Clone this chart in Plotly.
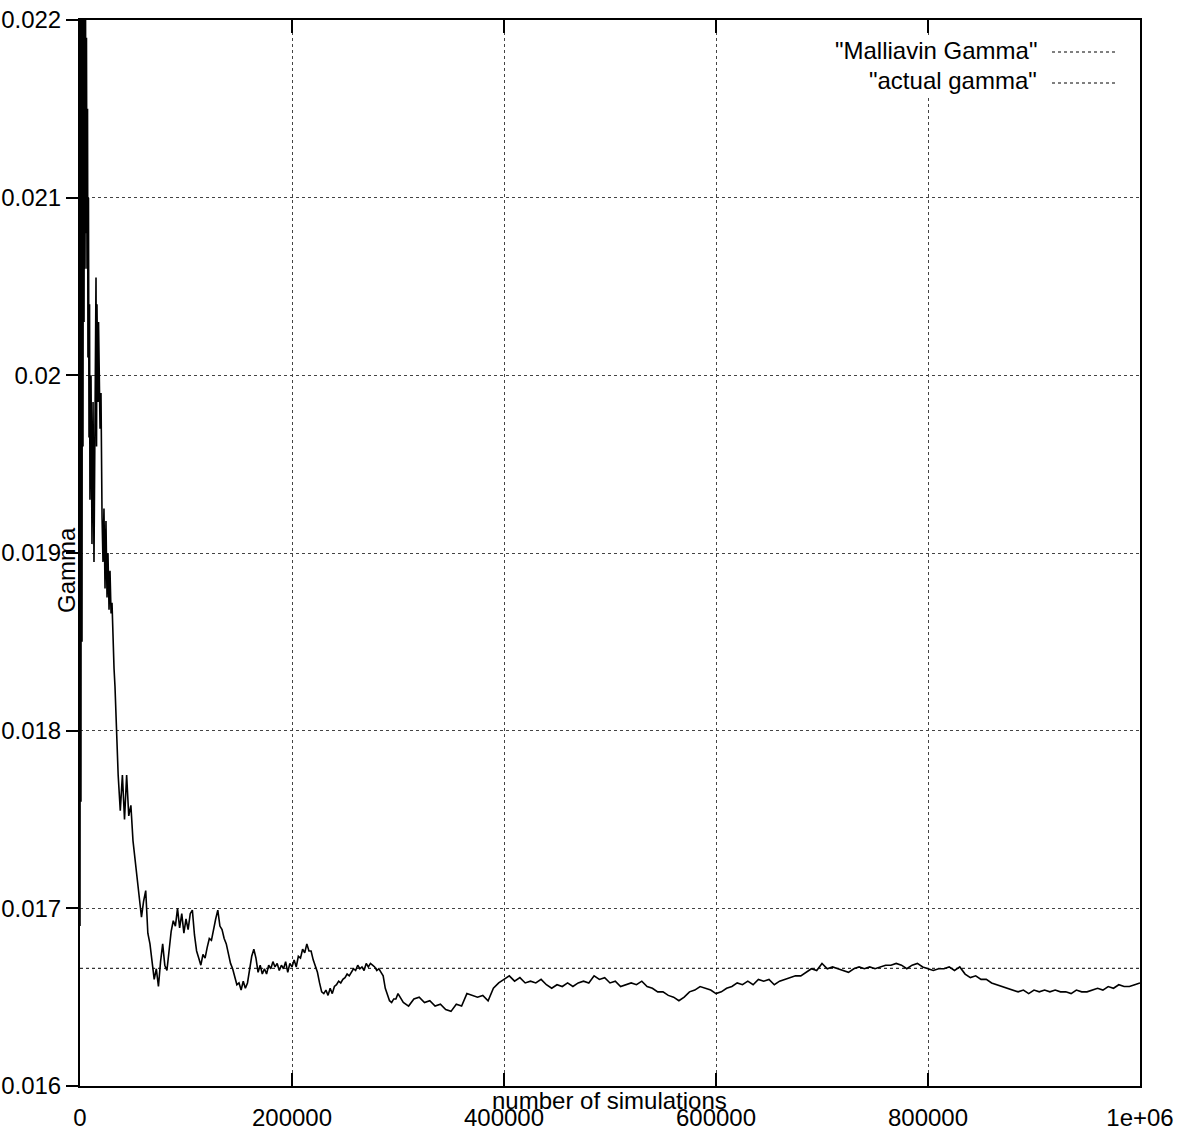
import plotly.graph_objects as go

# Running estimate of the Malliavin Gamma against the number of simulations.
# First ~35k simulations: very noisy start, sampled irregularly.
early_n = [0, 500, 900, 1400, 1900, 2400, 2800, 3300, 3800, 4200,
           4700, 5200, 5700, 6100, 6600, 7100, 7500, 8000, 8500, 9000,
           9400, 10400, 11300, 12300, 13200, 14200, 15100, 15600, 16000, 17000,
           17500, 18900, 19800, 20800, 21700, 22600, 23600, 24500, 25500, 26400,
           27400, 28300, 29300, 30200, 31100, 32100, 33000, 34000, 34900]
early_gamma = [0.01690, 0.02280, 0.01760, 0.02310, 0.01850, 0.02260, 0.01960, 0.02240, 0.02030, 0.02230,
               0.02060, 0.02210, 0.02080, 0.02190, 0.02060, 0.02150, 0.02010, 0.02100, 0.01965, 0.02040,
               0.01930, 0.02000, 0.01905, 0.01985, 0.01895, 0.01960, 0.02055, 0.01960, 0.02040, 0.01985,
               0.02030, 0.01970, 0.01990, 0.01920, 0.01895, 0.01925, 0.01880, 0.01918, 0.01875, 0.01900,
               0.01868, 0.01890, 0.01866, 0.01872, 0.01850, 0.01835, 0.01825, 0.01808, 0.01795]

# 36000 .. 298000 simulations, every 2000
mid_n = list(range(36000, 300000, 2000))
mid_gamma = [0.01775, 0.01755, 0.01775, 0.01750, 0.01775, 0.01752, 0.01758, 0.01738, 0.01728, 0.01716,
             0.01706, 0.01695, 0.01704, 0.01710, 0.01686, 0.01680, 0.01670, 0.01660, 0.01666, 0.01656,
             0.01670, 0.01680, 0.01668, 0.01665, 0.01676, 0.01687, 0.01693, 0.01690, 0.01700, 0.01689,
             0.01697, 0.01686, 0.01694, 0.01688, 0.01697, 0.01699, 0.01685, 0.01676, 0.01672, 0.01668,
             0.01674, 0.01672, 0.01678, 0.01683, 0.01682, 0.01689, 0.01694, 0.01699, 0.01690, 0.01688,
             0.01683, 0.01680, 0.01675, 0.01669, 0.01666, 0.01661, 0.01657, 0.01658, 0.01654, 0.01659,
             0.01655, 0.01658, 0.01665, 0.01673, 0.01677, 0.01672, 0.01664, 0.01668, 0.01663, 0.01666,
             0.01663, 0.01668, 0.01666, 0.01670, 0.01667, 0.01669, 0.01665, 0.01668, 0.01666, 0.01670,
             0.01664, 0.01669, 0.01667, 0.01671, 0.01667, 0.01673, 0.01672, 0.01677, 0.01675, 0.01680,
             0.01676, 0.01676, 0.01671, 0.01668, 0.01664, 0.01658, 0.01653, 0.01652, 0.01654, 0.01651,
             0.01655, 0.01652, 0.01656, 0.01657, 0.01659, 0.01658, 0.01660, 0.01661, 0.01663, 0.01662,
             0.01664, 0.01666, 0.01665, 0.01668, 0.01666, 0.01667, 0.01665, 0.01669, 0.01667, 0.01669,
             0.01668, 0.01667, 0.01665, 0.01666, 0.01664, 0.01662, 0.01655, 0.01651, 0.01648, 0.01647,
             0.01649, 0.01649]

# 300000 .. 1000000 simulations, every 5000
late_n = list(range(300000, 1000001, 5000))
late_gamma = [0.01652, 0.01647, 0.01645, 0.01649, 0.01650, 0.01647, 0.01648, 0.01645, 0.01646, 0.01643,
              0.01642, 0.01646, 0.01645, 0.01652, 0.01651, 0.01650, 0.01651, 0.01648, 0.01655, 0.01658,
              0.01660, 0.01662, 0.01659, 0.01661, 0.01658, 0.01659, 0.01658, 0.01660, 0.01657, 0.01655,
              0.01657, 0.01656, 0.01658, 0.01656, 0.01658, 0.01659, 0.01658, 0.01662, 0.01660, 0.01661,
              0.01658, 0.01659, 0.01656, 0.01657, 0.01658, 0.01657, 0.01659, 0.01656, 0.01655, 0.01653,
              0.01653, 0.01651, 0.01650, 0.01648, 0.01650, 0.01653, 0.01654, 0.01656, 0.01655, 0.01654,
              0.01652, 0.01653, 0.01655, 0.01656, 0.01658, 0.01657, 0.01659, 0.01657, 0.01660, 0.01659,
              0.01660, 0.01657, 0.01659, 0.01660, 0.01661, 0.01662, 0.01662, 0.01664, 0.01666, 0.01665,
              0.01669, 0.01666, 0.01667, 0.01666, 0.01665, 0.01664, 0.01666, 0.01667, 0.01666, 0.01667,
              0.01666, 0.01667, 0.01668, 0.01668, 0.01669, 0.01668, 0.01666, 0.01668, 0.01669, 0.01667,
              0.01666, 0.01665, 0.01666, 0.01666, 0.01667, 0.01665, 0.01667, 0.01663, 0.01661, 0.01662,
              0.01660, 0.01660, 0.01658, 0.01657, 0.01656, 0.01655, 0.01654, 0.01653, 0.01654, 0.01652,
              0.01654, 0.01653, 0.01654, 0.01653, 0.01654, 0.01653, 0.01653, 0.01652, 0.01654, 0.01653,
              0.01653, 0.01654, 0.01655, 0.01654, 0.01656, 0.01655, 0.01657, 0.01656, 0.01656, 0.01657,
              0.01658]

# Closed-form gamma used as the reference level
actual_gamma = 0.0166625

x_ticks = [0, 200000, 400000, 600000, 800000, 1000000]
x_tick_labels = ["0", "200000", "400000", "600000", "800000", "1e+06"]
y_ticks = [0.016, 0.017, 0.018, 0.019, 0.020, 0.021, 0.022]
y_tick_labels = ["0.016", "0.017", "0.018", "0.019", "0.02", "0.021", "0.022"]

for a, b in ((early_n, early_gamma), (mid_n, mid_gamma), (late_n, late_gamma)):
    assert len(a) == len(b), (len(a), len(b))

sims = early_n + mid_n + late_n
malliavin = early_gamma + mid_gamma + late_gamma

FONT = "Liberation Sans, Arial, Helvetica, sans-serif"
W, H = 1189, 1137
L, R, T, B = 80, 49, 20, 51
PW, PH = W - L - R, H - T - B


def px(x):
    return (x - L) / PW


def py(y):
    return (H - B - y) / PH


fig = go.Figure()
fig.add_trace(go.Scatter(
    x=sims, y=malliavin, mode="lines", name='"Malliavin Gamma"',
    line=dict(color="black", width=1.6),
))
fig.add_trace(go.Scatter(
    x=[0, 1000000], y=[actual_gamma, actual_gamma], mode="lines",
    name='"actual gamma"', line=dict(color="black", width=1, dash="dot"),
))

axis_common = dict(
    showline=True, linecolor="black", linewidth=2,
    showgrid=True, gridcolor="#444444", gridwidth=1, griddash="dot",
    zeroline=False, automargin=False,
    tickcolor="black", tickwidth=1.5,
    tickfont=dict(family=FONT, size=24, color="black"),
)

fig.update_xaxes(range=[0, 1000000], tickvals=x_ticks, ticktext=x_tick_labels,
                 ticks="inside", ticklen=13, mirror="ticks", ticklabelstandoff=9,
                 **axis_common)
fig.update_yaxes(range=[0.016, 0.022], tickvals=y_ticks, ticktext=y_tick_labels,
                 ticks="outside", ticklen=12, mirror=True, **axis_common)

shapes = [
    # blank key area
    dict(type="rect", xref="paper", yref="paper", x0=px(845), x1=px(1125),
         y0=py(98), y1=py(35), fillcolor="white", line=dict(width=0), layer="above"),
    dict(type="line", xref="paper", yref="paper", x0=px(1052), x1=px(1115),
         y0=py(52), y1=py(52), line=dict(color="black", width=1, dash="dot"), layer="above"),
    dict(type="line", xref="paper", yref="paper", x0=px(1052), x1=px(1115),
         y0=py(83), y1=py(83), line=dict(color="black", width=1, dash="dot"), layer="above"),
]

label_font = dict(family=FONT, size=24, color="black")
annotations = [
    dict(text='"Malliavin Gamma"', xref="paper", yref="paper", x=px(1039), y=py(50),
         xanchor="right", yanchor="middle", showarrow=False, font=label_font),
    dict(text='"actual gamma"', xref="paper", yref="paper", x=px(1039), y=py(81),
         xanchor="right", yanchor="middle", showarrow=False, font=label_font),
    dict(text="Gamma", xref="paper", yref="paper", x=px(66), y=py(570), textangle=-90,
         xanchor="center", yanchor="middle", showarrow=False, font=label_font),
    dict(text="number of simulations", xref="paper", yref="paper", x=px(609), y=py(1100),
         xanchor="center", yanchor="middle", showarrow=False, font=label_font),
]

fig.update_layout(
    template="none", width=W, height=H,
    margin=dict(l=L, r=R, t=T, b=B),
    paper_bgcolor="white", plot_bgcolor="white",
    showlegend=False, shapes=shapes, annotations=annotations,
)

fig.write_html("out.html")
